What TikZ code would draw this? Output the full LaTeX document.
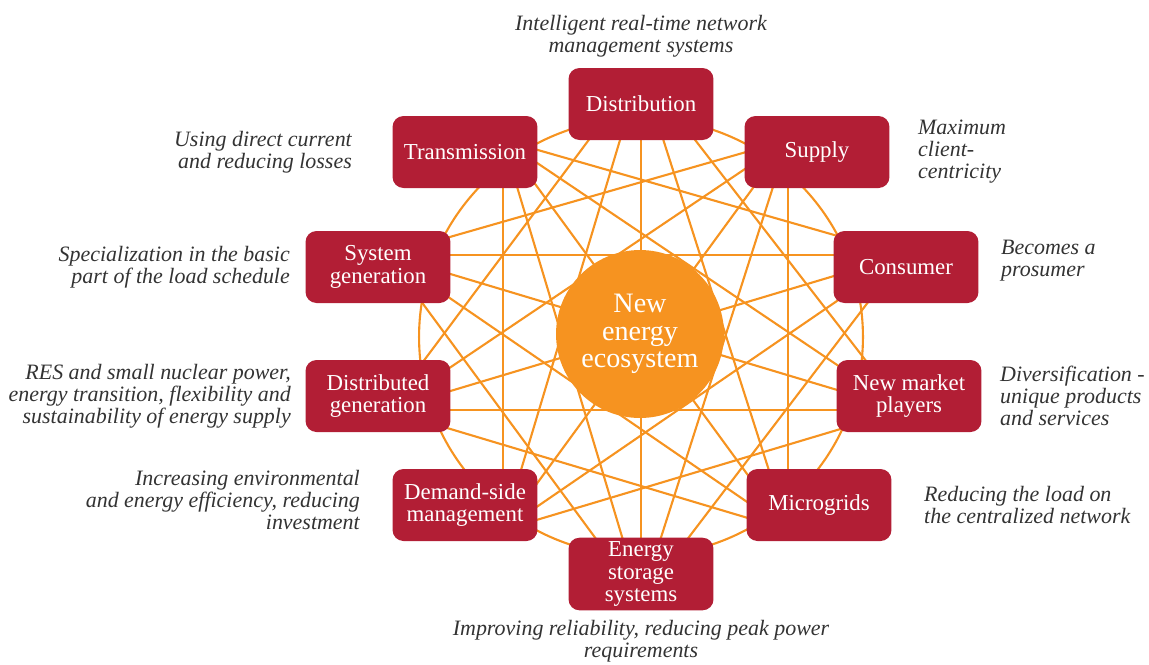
\documentclass[tikz,border=0pt]{standalone}
\usepackage{fontspec}
\setmainfont{Liberation Serif}
\usepackage{tikz}
\usetikzlibrary{positioning}
\definecolor{ecored}{RGB}{178,30,53}
\definecolor{ecoorange}{RGB}{246,147,32}
\tikzset{
    area-box/.style = {fill=ecored, text=white, rectangle, rounded corners=0.22cm, minimum width=2.9cm, minimum height=1.44cm, inner sep=2pt, align=center, font=\fontsize{13}{13}\selectfont},
    core-circle/.style = {fill=ecoorange, text=white, circle, minimum size=3.36cm, inner sep=0pt, align=center, font=\fontsize{16}{15.5}\selectfont},
    note-text/.style = {inner sep=0pt, text=black!80, font=\fontsize{12.5}{12.5}\selectfont\itshape},
    link-line/.style = {draw=ecoorange, line width=1.2pt},
}

\begin{document}
\begin{tikzpicture}[x=0.02cm, y=-0.02cm]
\useasboundingbox (0,0) rectangle (1149,664);
% points where the links meet the areas (hidden under the boxes)
\coordinate (h-1) at (641,70);
\coordinate (h-2) at (788,140);
\coordinate (h-3) at (904,255);
\coordinate (h-4) at (904,410);
\coordinate (h-5) at (788,530);
\coordinate (h-6) at (641,600);
\coordinate (h-7) at (503,530);
\coordinate (h-8) at (387,410);
\coordinate (h-9) at (387,255);
\coordinate (h-10) at (503,140);
% each area linked to the areas 3, 4 and 5 steps away
\foreach \i in {1,...,10} {
    \foreach \j in {\i,...,10} {
        \pgfmathtruncatemacro{\gap}{\j-\i}
        \ifnum\gap>2 \ifnum\gap<8
            \draw[link-line] (h-\i) -- (h-\j);
        \fi\fi
    }
}
\draw[link-line] (641,337) ellipse [x radius=4.44cm, y radius=4.38cm];
\node[core-circle] (core) at (640,334) {New\\energy\\ecosystem};

\node[area-box] (dist) at (641,104) {Distribution};
\node[area-box] (supply) at (817,152) {Supply};
\node[area-box] (cons) at (906,267) {Consumer};
\node[area-box] (market) at (909,396) {New market\\players};
\node[area-box] (micro) at (819,505) {Microgrids};
\node[area-box] (storage) at (641,574) {Energy\\storage\\systems};
\node[area-box] (demand) at (465,505) {Demand-side\\management};
\node[area-box] (distgen) at (378,396) {Distributed\\generation};
\node[area-box] (sysgen) at (378,267) {System\\generation};
\node[area-box] (trans) at (465,152) {Transmission};

\node[note-text, align=center, above=0.2cm of dist] (note-dist) {Intelligent real-time network\\management systems};
\node[note-text, align=left, right=0.56cm of supply] (note-supply) {Maximum\\client-\\centricity};
\node[note-text, align=left, right=0.44cm of cons, yshift=0.12cm] (note-cons) {Becomes a\\prosumer};
\node[note-text, align=left, right=0.36cm of market] (note-market) {Diversification -\\unique products\\and services};
\node[note-text, align=left, right=0.64cm of micro] (note-micro) {Reducing the load on\\the centralized network};
\node[note-text, align=center, below=0.18cm of storage] (note-storage) {Improving reliability, reducing peak power\\requirements};
\node[note-text, align=right, left=0.64cm of demand, yshift=0.1cm] (note-demand) {Increasing environmental\\and energy efficiency, reducing\\investment};
\node[note-text, align=right, left=0.28cm of distgen] (note-distgen) {RES and small nuclear power,\\energy transition, flexibility and\\sustainability of energy supply};
\node[note-text, align=right, left=0.3cm of sysgen] (note-sysgen) {Specialization in the basic\\part of the load schedule};
\node[note-text, align=right, left=0.8cm of trans] (note-trans) {Using direct current\\and reducing losses};
\end{tikzpicture}
\end{document}
